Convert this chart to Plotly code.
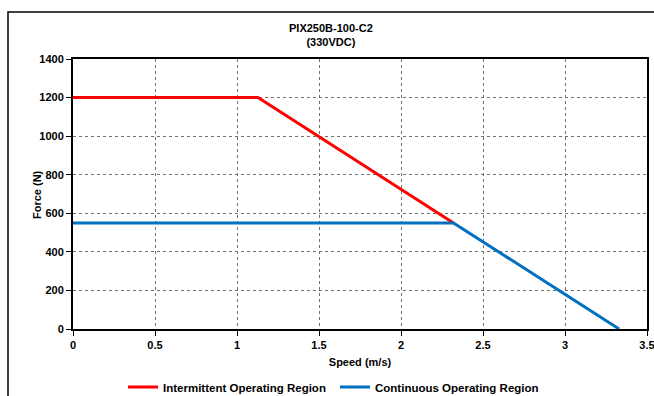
import plotly.graph_objects as go

# Data
intermittent_speed = [0, 1.128, 2.32]
intermittent_force = [1200, 1200, 550]
continuous_speed = [0, 2.32, 3.33]
continuous_force = [550, 550, 0]
x_ticks = [0, 0.5, 1, 1.5, 2, 2.5, 3, 3.5]
y_ticks = [0, 200, 400, 600, 800, 1000, 1200, 1400]

font_family = "Liberation Sans, Arial, sans-serif"

fig = go.Figure()
fig.add_trace(go.Scatter(x=intermittent_speed, y=intermittent_force, mode="lines",
                         name="Intermittent Operating Region",
                         line=dict(color="#FF0000", width=3)))
fig.add_trace(go.Scatter(x=continuous_speed, y=continuous_force, mode="lines",
                         name="Continuous Operating Region",
                         line=dict(color="#0070C0", width=3)))

axis_common = dict(showgrid=True, gridcolor="#707070", griddash="dot", gridwidth=1,
                   showline=True, linecolor="black", linewidth=2, mirror=True,
                   ticks="outside", ticklen=5, tickcolor="black", zeroline=False,
                   ticklabeloverflow="allow",
                   tickfont=dict(family=font_family, size=11, color="black", weight="bold"))

fig.update_layout(
    width=654, height=396,
    margin=dict(l=73, r=7, t=59, b=67, autoexpand=False),
    paper_bgcolor="white", plot_bgcolor="white",
    showlegend=True,
    legend=dict(orientation="h", x=(123 - 73) / 574, xanchor="left", y=-0.215, yanchor="middle",
                font=dict(family=font_family, size=11.5, color="black", weight="bold"),
                itemwidth=30, entrywidth=167, entrywidthmode="pixels",
                tracegroupgap=0, bgcolor="rgba(0,0,0,0)"),
    xaxis=dict(range=[0, 3.5], tickvals=x_ticks, ticktext=[str(v) for v in x_ticks],
               title=dict(text="Speed (m/s)", standoff=8,
                          font=dict(family=font_family, size=11, color="black", weight="bold")),
               **axis_common),
    yaxis=dict(range=[0, 1400], tickvals=y_ticks, **axis_common),
    annotations=[
        dict(text="<b>PIX250B-100-C2</b><br><b>(330VDC)</b>", xref="paper", yref="paper",
             x=(331 - 73) / 574, y=1 + (59 - 35) / 270, xanchor="center", yanchor="middle",
             showarrow=False, font=dict(family=font_family, size=11, color="black")),
        dict(text="<b>Force (N)</b>", xref="paper", yref="paper", textangle=-90,
             x=(37 - 73) / 574, y=(329 - 195) / 270, xanchor="center", yanchor="middle",
             showarrow=False, font=dict(family=font_family, size=11, color="black")),
    ],
    shapes=[
        dict(type="rect", xref="paper", yref="paper",
             x0=(8 - 73) / 574, x1=(662 - 73) / 574,
             y0=(329 - 410) / 270, y1=1 + (59 - 12) / 270,
             line=dict(color="black", width=1.5), fillcolor="rgba(0,0,0,0)", layer="below"),
    ],
)

fig.write_html("out.html", config={"displayModeBar": False},
               post_script="document.body.style.margin='0';document.body.style.overflow='hidden';")
